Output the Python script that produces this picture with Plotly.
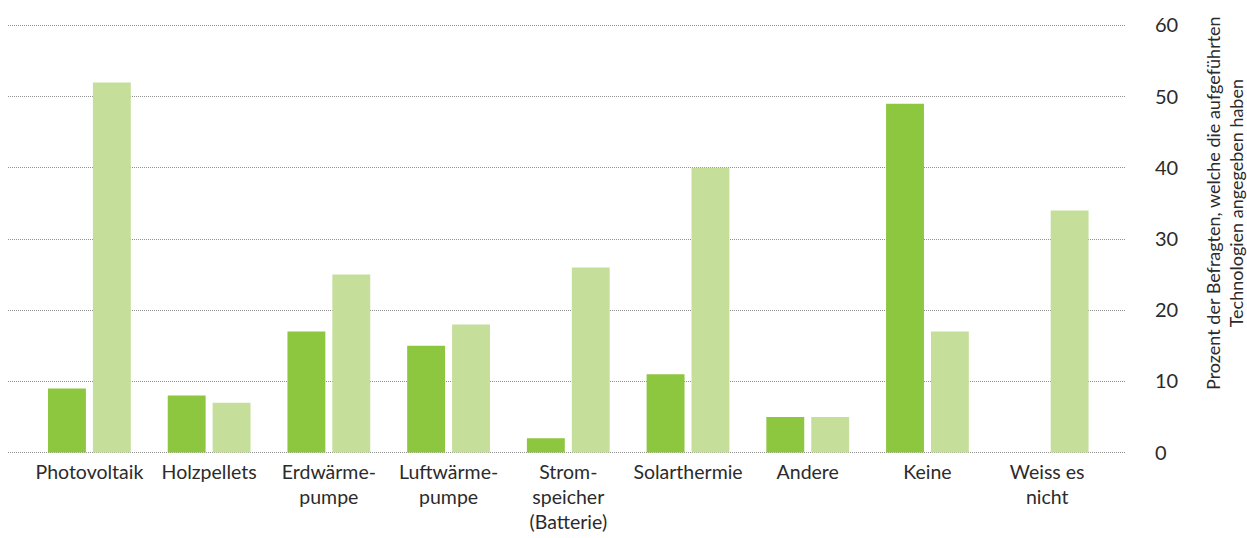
import plotly.graph_objects as go

categories = [
    "Photovoltaik", "Holzpellets", "Erdwärme-<br>pumpe", "Luftwärme-<br>pumpe",
    "Strom-<br>speicher<br>(Batterie)", "Solarthermie", "Andere", "Keine",
    "Weiss es<br>nicht",
]
series_a = [9, 8, 17, 15, 2, 11, 5, 49, 0]
series_b = [52, 7, 25, 18, 26, 40, 5, 17, 34]
y_ticks = [0, 10, 20, 30, 40, 50, 60]

DARK = "#8DC63F"
LIGHT = "#C5DF9B"
TEXT = "#2b2b2b"
FONT = "Lato, Open Sans, sans-serif"

fig = go.Figure()
fig.add_trace(go.Bar(x=categories, y=series_a, marker=dict(color=DARK, line_width=0),
                     showlegend=False))
fig.add_trace(go.Bar(x=categories, y=series_b, marker=dict(color=LIGHT, line_width=0),
                     showlegend=False))

fig.update_layout(
    width=1247, height=538,
    margin=dict(l=8, r=122, t=24, b=84),
    paper_bgcolor="white", plot_bgcolor="white",
    barmode="group", bargap=0.25, bargroupgap=0.156,
    font=dict(family=FONT, color=TEXT, size=19.5),
    xaxis=dict(
        range=[-0.68, 8.65], showgrid=False, showline=False, zeroline=False,
        ticks="", tickfont=dict(size=19.5, color=TEXT), ticklabelstandoff=4,
        automargin=False,
    ),
    yaxis=dict(
        side="right", range=[-0.2, 60.2], tickvals=y_ticks,
        showgrid=True, gridcolor="#8f8f8f", gridwidth=1, griddash="1px,1px",
        zeroline=False, showline=False, ticks="",
        tickfont=dict(size=20, color=TEXT), ticklabelstandoff=29,
        automargin=False,
    ),
    annotations=[dict(
        text="Prozent der Befragten, welche die aufgeführten<br>Technologien angegeben haben",
        xref="paper", yref="paper", x=(1224 - 8) / 1117, y=(538 - 84 - 203) / 430,
        xanchor="center", yanchor="middle", textangle=-90, showarrow=False,
        font=dict(size=18, color=TEXT, family=FONT), align="center",
    )],
)

fig.write_html("out.html")
